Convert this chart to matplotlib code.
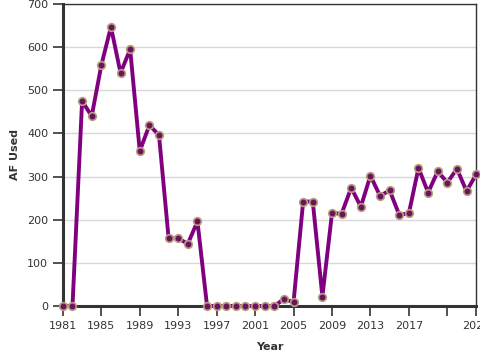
import matplotlib
matplotlib.use("Agg")
import matplotlib.pyplot as plt

years = list(range(1981, 2025))
af_used = [0, 0, 475, 440, 558, 647, 540, 595, 359, 419, 396, 157,
           157, 144, 196, 0, 0, 0, 0, 0, 0, 0, 0, 16,
           9, 242, 242, 22, 215, 214, 274, 230, 302, 255, 268, 211,
           215, 320, 263, 312, 286, 318, 266, 305]

x_ticks = [1981, 1985, 1989, 1993, 1997, 2001, 2005, 2009, 2013, 2017, 2021, 2024]
x_labels = ["1981", "1985", "1989", "1993", "1997", "2001", "2005", "2009",
            "2013", "2017", "", "2024"]
y_ticks = [0, 100, 200, 300, 400, 500, 600, 700]

fig = plt.figure(figsize=(4.8, 3.6), dpi=100)
ax = fig.add_axes([0.131, 0.15, 0.861, 0.839])

ax.plot(years, af_used, color="#800080", linewidth=2.8, marker="o",
        markersize=5.5, markerfacecolor="#6a1460", markeredgecolor="#b8a07c",
        markeredgewidth=1.2, clip_on=False, zorder=3)

ax.set_xlim(1981, 2024)
ax.set_ylim(0, 700)
ax.set_xticks(x_ticks)
ax.set_xticklabels(x_labels)
ax.set_yticks(y_ticks)

ax.grid(axis="y", color="#d8d8d8", linewidth=1)
ax.set_axisbelow(True)

for side in ["left", "bottom"]:
    ax.spines[side].set_linewidth(2.2)
    ax.spines[side].set_color("#333333")
for side in ["top", "right"]:
    ax.spines[side].set_linewidth(1)
    ax.spines[side].set_color("#333333")

ax.tick_params(axis="both", labelsize=8, colors="#333333", length=7, width=1.2)
ax.set_xlabel("Year", fontsize=8, fontweight="bold", color="#333333", labelpad=8)
ax.set_ylabel("AF Used", fontsize=8, fontweight="bold", color="#333333", labelpad=5)

fig.savefig("out.png", dpi=100)
